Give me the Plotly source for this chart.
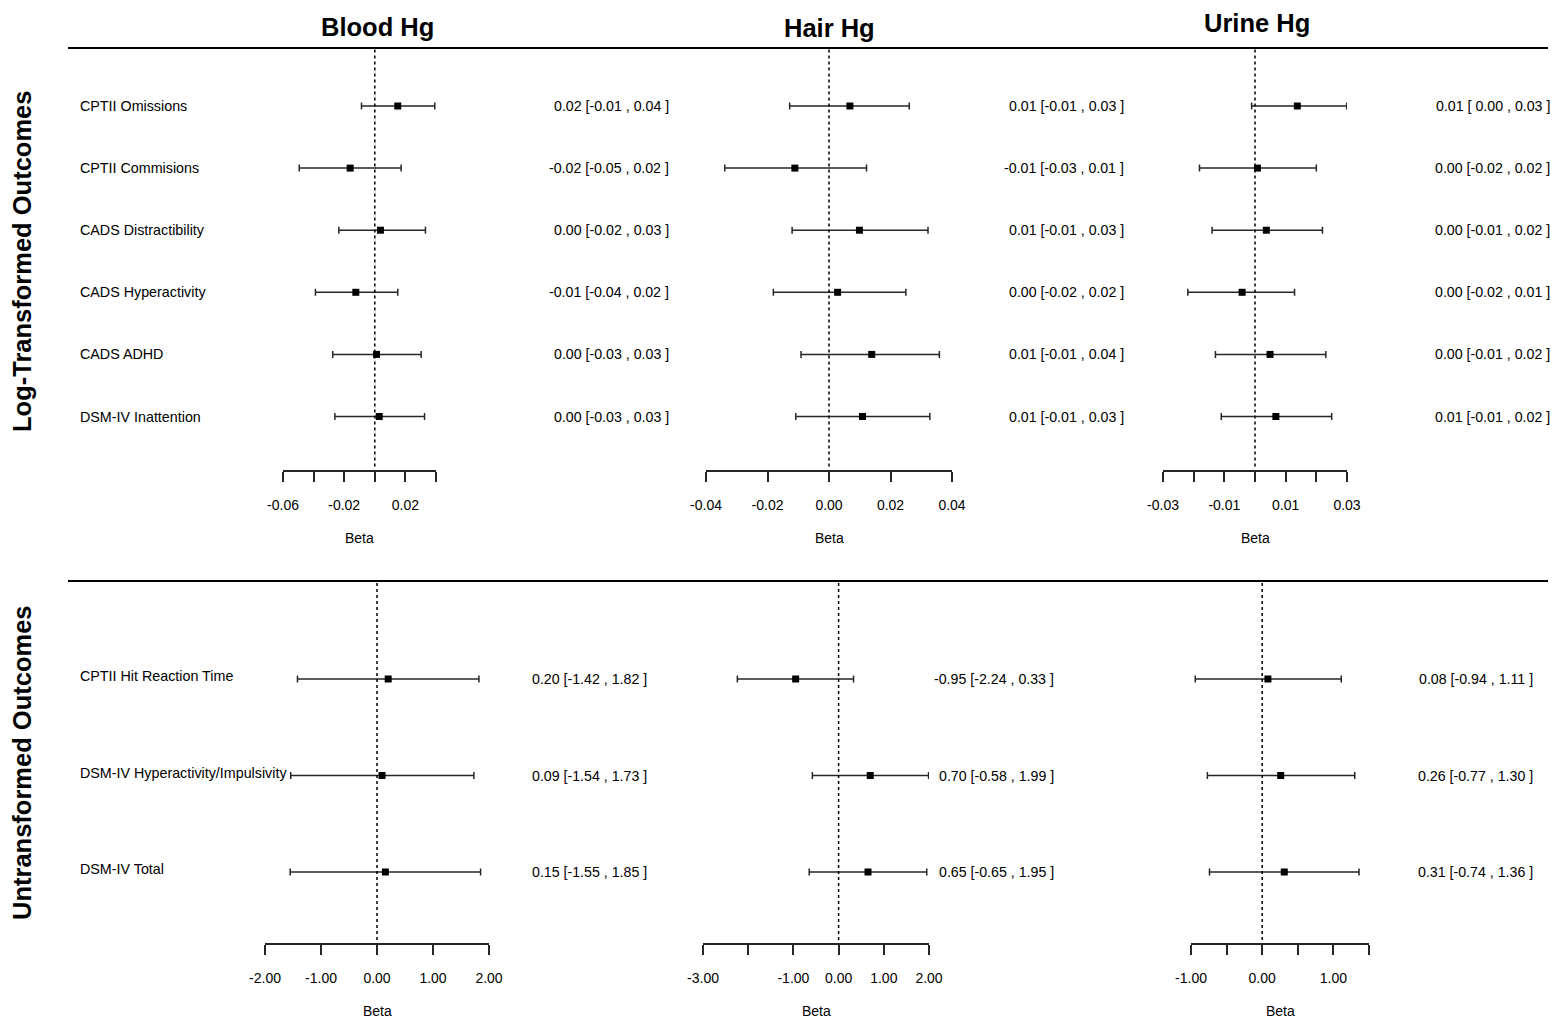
import plotly.graph_objects as go

W, H = 1554, 1020

# ---------------- data ----------------
exposures = ["Blood Hg", "Hair Hg", "Urine Hg"]
row_titles = ["Log-Transformed Outcomes", "Untransformed Outcomes"]

log_outcomes = ["CPTII Omissions", "CPTII Commisions", "CADS Distractibility",
                "CADS Hyperactivity", "CADS ADHD", "DSM-IV Inattention"]
raw_outcomes = ["CPTII Hit Reaction Time", "DSM-IV Hyperactivity/Impulsivity", "DSM-IV Total"]

# Log-transformed outcomes
blood_log_est = [0.0150, -0.0161, 0.0037, -0.0124, 0.0011, 0.0029]
blood_log_lo = [-0.0087, -0.0494, -0.0235, -0.0388, -0.0275, -0.0261]
blood_log_hi = [0.0392, 0.0172, 0.0331, 0.0150, 0.0303, 0.0325]

hair_log_est = [0.0068, -0.0111, 0.0099, 0.0028, 0.0139, 0.0109]
hair_log_lo = [-0.0128, -0.0339, -0.0120, -0.0181, -0.0091, -0.0108]
hair_log_hi = [0.0261, 0.0122, 0.0322, 0.0250, 0.0359, 0.0328]

urine_log_est = [0.0138, 0.0008, 0.0037, -0.0042, 0.0049, 0.0068]
urine_log_lo = [-0.0011, -0.0181, -0.0140, -0.0219, -0.0129, -0.0110]
urine_log_hi = [0.0299, 0.0200, 0.0220, 0.0129, 0.0231, 0.0250]

# Untransformed outcomes
blood_raw_est = [0.20, 0.09, 0.15]
blood_raw_lo = [-1.42, -1.54, -1.55]
blood_raw_hi = [1.82, 1.73, 1.85]

hair_raw_est = [-0.95, 0.70, 0.65]
hair_raw_lo = [-2.24, -0.58, -0.65]
hair_raw_hi = [0.33, 1.99, 1.95]

urine_raw_est = [0.08, 0.26, 0.31]
urine_raw_lo = [-0.94, -0.77, -0.74]
urine_raw_hi = [1.11, 1.30, 1.36]

# Estimate labels
blood_log_txt = ["0.02 [-0.01 , 0.04 ]", "-0.02 [-0.05 , 0.02 ]", "0.00 [-0.02 , 0.03 ]",
                 "-0.01 [-0.04 , 0.02 ]", "0.00 [-0.03 , 0.03 ]", "0.00 [-0.03 , 0.03 ]"]
hair_log_txt = ["0.01 [-0.01 , 0.03 ]", "-0.01 [-0.03 , 0.01 ]", "0.01 [-0.01 , 0.03 ]",
                "0.00 [-0.02 , 0.02 ]", "0.01 [-0.01 , 0.04 ]", "0.01 [-0.01 , 0.03 ]"]
urine_log_txt = ["0.01 [ 0.00 , 0.03 ]", "0.00 [-0.02 , 0.02 ]", "0.00 [-0.01 , 0.02 ]",
                 "0.00 [-0.02 , 0.01 ]", "0.00 [-0.01 , 0.02 ]", "0.01 [-0.01 , 0.02 ]"]
blood_raw_txt = ["0.20 [-1.42 , 1.82 ]", "0.09 [-1.54 , 1.73 ]", "0.15 [-1.55 , 1.85 ]"]
hair_raw_txt = ["-0.95 [-2.24 , 0.33 ]", "0.70 [-0.58 , 1.99 ]", "0.65 [-0.65 , 1.95 ]"]
urine_raw_txt = ["0.08 [-0.94 , 1.11 ]", "0.26 [-0.77 , 1.30 ]", "0.31 [-0.74 , 1.36 ]"]

# Tick values / labels
blood_log_ticks = [-0.06, -0.04, -0.02, 0.00, 0.02, 0.04]
blood_log_ticktext = ["-0.06", "", "-0.02", "", "0.02", ""]
hair_log_ticks = [-0.04, -0.02, 0.00, 0.02, 0.04]
hair_log_ticktext = ["-0.04", "-0.02", "0.00", "0.02", "0.04"]
urine_log_ticks = [-0.03, -0.02, -0.01, 0.00, 0.01, 0.02, 0.03]
urine_log_ticktext = ["-0.03", "", "-0.01", "", "0.01", "", "0.03"]
blood_raw_ticks = [-2, -1, 0, 1, 2]
blood_raw_ticktext = ["-2.00", "-1.00", "0.00", "1.00", "2.00"]
hair_raw_ticks = [-3, -2, -1, 0, 1, 2]
hair_raw_ticktext = ["-3.00", "", "-1.00", "0.00", "1.00", "2.00"]
urine_raw_ticks = [-1, -0.5, 0, 0.5, 1, 1.5]
urine_raw_ticktext = ["-1.00", "", "0.00", "", "1.00", ""]

# ---------------- layout helpers (pixel geometry) ----------------
def px_x(p):
    return p / W


def px_y(p):
    return 1 - p / H


FONT = "Liberation Sans, Arial, sans-serif"
LINE = "#262626"

panels = [
    dict(row=0, est=blood_log_est, lo=blood_log_lo, hi=blood_log_hi, txt=blood_log_txt,
         ticks=blood_log_ticks, tt=blood_log_ticktext, xpx=(283, 436), txtx=671),
    dict(row=0, est=hair_log_est, lo=hair_log_lo, hi=hair_log_hi, txt=hair_log_txt,
         ticks=hair_log_ticks, tt=hair_log_ticktext, xpx=(706, 952), txtx=1126),
    dict(row=0, est=urine_log_est, lo=urine_log_lo, hi=urine_log_hi, txt=urine_log_txt,
         ticks=urine_log_ticks, tt=urine_log_ticktext, xpx=(1163, 1347), txtx=1552),
    dict(row=1, est=blood_raw_est, lo=blood_raw_lo, hi=blood_raw_hi, txt=blood_raw_txt,
         ticks=blood_raw_ticks, tt=blood_raw_ticktext, xpx=(265, 489), txtx=649),
    dict(row=1, est=hair_raw_est, lo=hair_raw_lo, hi=hair_raw_hi, txt=hair_raw_txt,
         ticks=hair_raw_ticks, tt=hair_raw_ticktext, xpx=(703, 929), txtx=1056),
    dict(row=1, est=urine_raw_est, lo=urine_raw_lo, hi=urine_raw_hi, txt=urine_raw_txt,
         ticks=urine_raw_ticks, tt=urine_raw_ticktext, xpx=(1191, 1369), txtx=1535),
]

rows_geom = [
    dict(first=106.0, step=62.1, top=48, axis=470, n=len(log_outcomes), labels=log_outcomes, lshift=0),
    dict(first=679.0, step=96.5, top=581, axis=943, n=len(raw_outcomes), labels=raw_outcomes, lshift=3),
]

fig = go.Figure()
layout = dict(
    width=W, height=H,
    margin=dict(l=0, r=0, t=0, b=0, pad=0),
    paper_bgcolor="white", plot_bgcolor="white",
    showlegend=False,
    font=dict(family=FONT, color="black"),
)
annotations = []
shapes = []

for i, p in enumerate(panels):
    idx = i + 1
    xa = "xaxis" if idx == 1 else f"xaxis{idx}"
    ya = "yaxis" if idx == 1 else f"yaxis{idx}"
    xr = "x" if idx == 1 else f"x{idx}"
    yr = "y" if idx == 1 else f"y{idx}"
    g = rows_geom[p["row"]]
    n = g["n"]
    ys = list(range(n))
    est, lo, hi = p["est"], p["lo"], p["hi"]

    fig.add_trace(go.Scatter(
        x=est, y=ys, xaxis=xr, yaxis=yr, mode="markers",
        marker=dict(symbol="square", size=7, color="black"),
        error_x=dict(type="data", symmetric=False,
                     array=[h - e for h, e in zip(hi, est)],
                     arrayminus=[e - l for e, l in zip(est, lo)],
                     color=LINE, thickness=1.5, width=3.5),
        hoverinfo="skip",
    ))

    y_bot = (g["axis"] - g["first"]) / g["step"]
    y_top = (g["top"] - g["first"]) / g["step"]
    layout[xa] = dict(
        domain=[px_x(p["xpx"][0]), px_x(p["xpx"][1])],
        range=[p["ticks"][0], p["ticks"][-1]],
        anchor=yr, showgrid=False, zeroline=False,
        showline=True, linecolor=LINE, linewidth=1.5,
        ticks="outside", ticklen=10, tickwidth=1.5, tickcolor=LINE,
        tickvals=p["ticks"], ticktext=p["tt"],
        tickfont=dict(family=FONT, size=14, color="black"),
        ticklabelstandoff=11,
        fixedrange=True, automargin=False,
    )
    layout[ya] = dict(
        domain=[px_y(g["axis"]), px_y(g["top"])],
        range=[y_bot, y_top], anchor=xr, visible=False,
        fixedrange=True, automargin=False,
    )

    shapes.append(dict(type="line", xref=xr, yref=f"{yr} domain", x0=0, x1=0,
                       y0=0.008, y1=1, line=dict(color="black", width=1.5, dash="dot")))

    annotations.append(dict(text="Beta", xref=f"{xr} domain", x=0.5, yref="paper",
                            y=px_y(g["axis"] + 68), xanchor="center", yanchor="middle",
                            showarrow=False, font=dict(family=FONT, size=14, color="black")))

    for k in range(n):
        annotations.append(dict(text=p["txt"][k], xref="paper", x=px_x(p["txtx"]),
                                yref=yr, y=k, xanchor="right", yanchor="middle",
                                showarrow=False,
                                font=dict(family=FONT, size=14.2, color="black")))

    if i % 3 == 0:
        for k in range(n):
            annotations.append(dict(text=g["labels"][k], xref="paper", x=px_x(78),
                                    yref=yr, y=k, yshift=g["lshift"],
                                    xanchor="left", yanchor="middle", showarrow=False,
                                    font=dict(family=FONT, size=14.3, color="black")))

col_title_pos = [(377, 27), (829, 28), (1257, 23)]
for t, (cx, cy) in zip(exposures, col_title_pos):
    annotations.append(dict(text=f"<b>{t}</b>", xref="paper", yref="paper",
                            x=px_x(cx), y=px_y(cy), xanchor="center", yanchor="middle",
                            showarrow=False, font=dict(family=FONT, size=25.5, color="black")))

row_title_pos = [262, 763]
for t, cy in zip(row_titles, row_title_pos):
    annotations.append(dict(text=f"<b>{t}</b>", xref="paper", yref="paper",
                            x=px_x(22), y=px_y(cy), xanchor="center", yanchor="middle",
                            textangle=-90, showarrow=False,
                            font=dict(family=FONT, size=25.5, color="black")))

for yp in (48, 581):
    shapes.append(dict(type="line", xref="paper", yref="paper",
                       x0=px_x(68), x1=px_x(1548), y0=px_y(yp), y1=px_y(yp),
                       line=dict(color="black", width=2)))

layout["annotations"] = annotations
layout["shapes"] = shapes
fig.update_layout(**layout)

fig.write_html(
    "out.html",
    config={"displayModeBar": False},
    post_script="document.body.style.margin='0';document.body.style.padding='0';"
                "document.body.style.overflow='hidden';",
)
